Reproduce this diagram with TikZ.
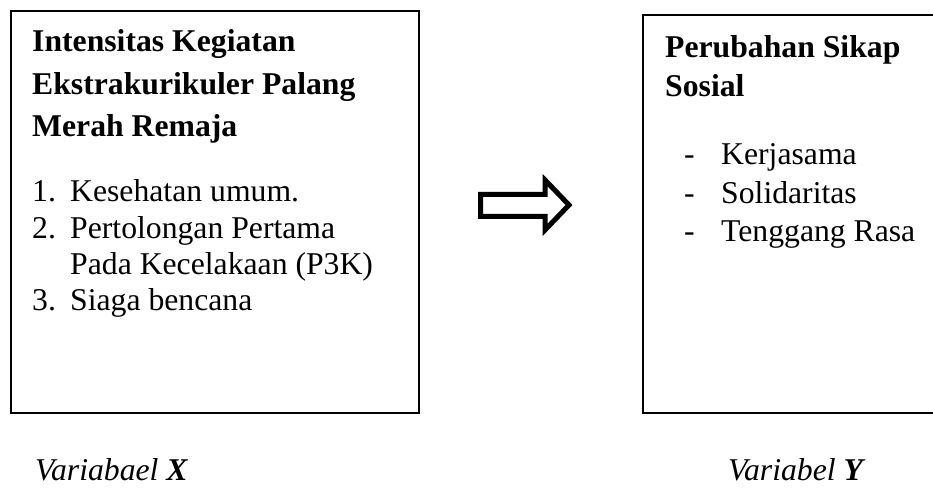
\documentclass[tikz,border=0pt]{standalone}
\usepackage{fontspec}
\setmainfont{Liberation Serif}
\tikzset{
  teks/.style={anchor=base west, inner sep=0pt, font=\fontsize{31.7}{38}\selectfont},
  judul/.style={teks, font=\fontsize{31.7}{38}\selectfont\bfseries},
  kotak/.style={line width=2pt},
}
\begin{document}
\begin{tikzpicture}[x=1pt, y=1pt]
        \useasboundingbox (0,0) rectangle (933,487);

        % Kotak variabel X
        \draw[kotak] (11,476) rectangle (419,74);
        \node[judul] (jx1) at (32,435) {Intensitas Kegiatan};
        \node[judul] (jx2) at (32,392) {Ekstrakurikuler Palang};
        \node[judul] (jx3) at (32,350) {Merah Remaja};

        % Indikator X
        \node[teks] (nx1) at (32,285) {1.};
        \node[teks] (ix1) at (70,285) {Kesehatan umum.};
        \node[teks] (nx2) at (32,248) {2.};
        \node[teks] (ix2) at (70,248) {Pertolongan Pertama};
        \node[teks] (ix2b) at (70,212) {Pada Kecelakaan (P3K)};
        \node[teks] (nx3) at (32,176) {3.};
        \node[teks] (ix3) at (70,176) {Siaga bencana};

        % Kotak variabel Y (terpotong di kanan)
        \draw[kotak] (933,472) -- (643,472) -- (643,74) -- (933,74);
        \node[judul] (jy1) at (665,429) {Perubahan Sikap};
        \node[judul] (jy2) at (665,390) {Sosial};

        % Indikator Y
        \foreach \y/\t [count=\i] in {322/Kerjasama, 283/Solidaritas, 245/Tenggang Rasa} {
            \node[teks] (dy\i) at (684,\y) {-};
            \node[teks] (iy\i) at (721,\y) {\t};
        }

        % Panah X ke Y
        \draw[line width=5pt] (480.5,292.5) -- (545,292.5) -- (545,307) -- (569,282)
            -- (545,257) -- (545,270.5) -- (480.5,270.5) -- cycle;

        % Keterangan variabel
        \node[teks] (vx) at (35,7) {\itshape Variabael \textbf{X}};
        \node[teks] (vy) at (728,7) {\itshape Variabel \textbf{Y}};

\end{tikzpicture}
\end{document}
